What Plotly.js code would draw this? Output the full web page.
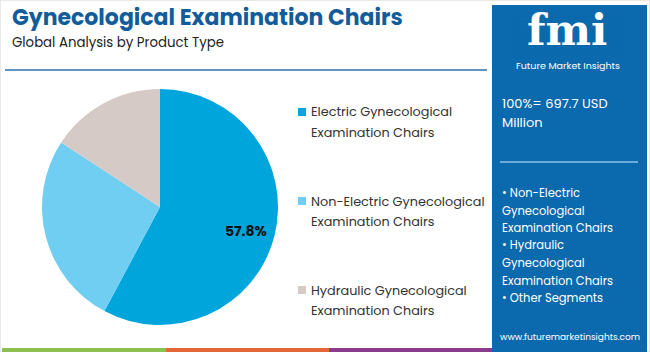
<!DOCTYPE html>
<html>
<head>
<meta charset="utf-8">
<script src="https://cdn.plot.ly/plotly-3.0.1.min.js"></script>
<style>
html,body{margin:0;padding:0;background:#fff;}
#chart{width:650px;height:352px;}
</style>
</head>
<body>
<div id="chart"></div>
<script>
// ---- data ----
const categories = [
  "Electric Gynecological Examination Chairs",
  "Non-Electric Gynecological Examination Chairs",
  "Hydraulic Gynecological Examination Chairs"
];
const legendLines = [
  ["Electric Gynecological", "Examination Chairs"],
  ["Non-Electric Gynecological", "Examination Chairs"],
  ["Hydraulic Gynecological", "Examination Chairs"]
];
const shares = [57.8, 26.4, 15.8];
const shownLabel = [true, false, false];
const sliceColors = ["#00A5DB", "#6FCEF1", "#D5CAC6"];
const titleText = "Gynecological Examination Chairs";
const subtitleText = "Global Analysis by Product Type";
const totalText = ["100%= 697.7 USD", "Million"];
const segmentLines = ["• Non-Electric", "Gynecological", "Examination Chairs", "• Hydraulic", "Gynecological", "Examination Chairs", "• Other Segments"];
const siteText = "www.futuremarketinsights.com";

// ---- layout helpers ----
const W = 650, H = 352;
const px = x => x / W;
const py = y => 1 - y / H;
const FONT = "Poppins, 'Open Sans', sans-serif";
const PANEL = "#0B69AD";

const cx = 160, cy = 207, r = 118;

const trace = {
  type: "pie",
  labels: categories,
  values: shares,
  marker: {colors: sliceColors, line: {width: 0}},
  sort: false,
  direction: "clockwise",
  rotation: 0,
  textinfo: "none",
  hoverinfo: "label+percent",
  domain: {x: [px(cx - r), px(cx + r)], y: [py(cy + r), py(cy - r)]}
};

const shapes = [];
const annotations = [];

// slice value labels, placed at the mid-angle of each shown slice
const total = shares.reduce((a, b) => a + b, 0);
let acc = 0;
shares.forEach((v, i) => {
  const mid = (acc + v / 2) / total * 2 * Math.PI;
  acc += v;
  if (!shownLabel[i]) return;
  const lx = cx + Math.sin(mid) * r * 0.75;
  const ly = cy - Math.cos(mid) * r * 0.75 + 3;
  annotations.push({xref: "paper", yref: "paper", x: px(lx), y: py(ly), xanchor: "center", yanchor: "middle",
    text: "<b>" + v.toFixed(1) + "%</b>", showarrow: false,
    font: {family: FONT, size: 14, color: "#111"}});
});

// outer faint border
shapes.push({type: "rect", xref: "paper", yref: "paper", x0: 0, x1: 1, y0: 0, y1: 1,
  line: {color: "#E2E2E2", width: 1.5}, layer: "below"});
// title underline
shapes.push({type: "line", xref: "paper", yref: "paper", x0: px(5), x1: px(487), y0: py(70), y1: py(70),
  line: {color: "#2D70B0", width: 1.5}});
// right panel
shapes.push({type: "rect", xref: "paper", yref: "paper", x0: px(492), x1: px(647), y0: py(352), y1: py(5),
  fillcolor: PANEL, line: {width: 0}, layer: "below"});
// panel separator
shapes.push({type: "line", xref: "paper", yref: "paper", x0: px(500), x1: px(638), y0: py(162), y1: py(162),
  line: {color: "#8DC0E8", width: 1.5}});
// bottom strip
const stripColors = ["#8DC051", "#E4673A", "#8B3B8D"];
const stripEdges = [2, 166, 329, 492];
for (let i = 0; i < 3; i++) {
  shapes.push({type: "rect", xref: "paper", yref: "paper", x0: px(stripEdges[i]), x1: px(stripEdges[i + 1]),
    y0: py(352), y1: py(348), fillcolor: stripColors[i], line: {width: 0}});
}

// title & subtitle
annotations.push({xref: "paper", yref: "paper", x: px(10), y: py(17), xanchor: "left", yanchor: "middle",
  text: "<b>" + titleText + "</b>", showarrow: false,
  font: {family: FONT, size: 22, color: "#135C9A"}});
annotations.push({xref: "paper", yref: "paper", x: px(10), y: py(42), xanchor: "left", yanchor: "middle",
  text: subtitleText, showarrow: false,
  font: {family: FONT, size: 13.3, color: "#222"}});

// legend (built from categories/colors)
const legTop = [112, 201, 290];
for (let i = 0; i < categories.length; i++) {
  shapes.push({type: "rect", xref: "paper", yref: "paper",
    x0: px(298), x1: px(306), y0: py(legTop[i] + 4), y1: py(legTop[i] - 4),
    fillcolor: sliceColors[i], line: {width: 0}});
  legendLines[i].forEach((t, j) => {
    annotations.push({xref: "paper", yref: "paper", x: px(309), y: py(legTop[i] + j * 20),
      xanchor: "left", yanchor: "middle", text: t, showarrow: false,
      font: {family: FONT, size: 12.8, color: "#333"}});
  });
}

// fmi logo
annotations.push({xref: "paper", yref: "paper", x: px(567), y: py(30), xanchor: "center", yanchor: "middle",
  text: "<b>fmi</b>", showarrow: false,
  font: {family: "'DejaVu Serif', serif", size: 43, color: "#FFFFFF"}});
for (let y = 17; y <= 53; y += 4) {
  shapes.push({type: "line", xref: "paper", yref: "paper", x0: px(505), x1: px(630), y0: py(y), y1: py(y),
    line: {color: PANEL, width: 1.3}});
}
annotations.push({xref: "paper", yref: "paper", x: px(568), y: py(65.5), xanchor: "center", yanchor: "middle",
  text: "Future Market Insights", showarrow: false,
  font: {family: FONT, size: 9.5, color: "#FFFFFF"}});

// total
totalText.forEach((t, j) => {
  annotations.push({xref: "paper", yref: "paper", x: px(500), y: py(103 + j * 20), xanchor: "left", yanchor: "middle",
    text: t, showarrow: false, font: {family: FONT, size: 13, color: "#FFFFFF"}});
});
// segments
segmentLines.forEach((t, j) => {
  annotations.push({xref: "paper", yref: "paper", x: px(500), y: py(193 + j * 17.5), xanchor: "left", yanchor: "middle",
    text: t, showarrow: false, font: {family: FONT, size: 11.5, color: "#FFFFFF"}});
});
annotations.push({xref: "paper", yref: "paper", x: px(570), y: py(337), xanchor: "center", yanchor: "middle",
  text: siteText, showarrow: false, font: {family: FONT, size: 9, color: "#FFFFFF"}});

const layout = {
  width: W, height: H,
  margin: {l: 0, r: 0, t: 0, b: 0},
  paper_bgcolor: "#FFFFFF",
  showlegend: false,
  shapes: shapes,
  annotations: annotations
};

Plotly.newPlot("chart", [trace], layout, {displayModeBar: false, staticPlot: true});
</script>
</body>
</html>
